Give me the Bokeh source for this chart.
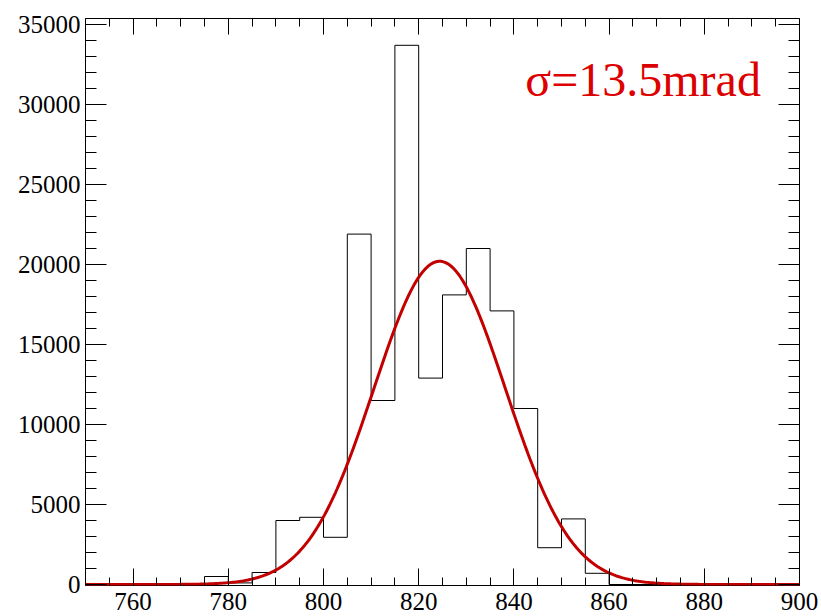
import numpy as np
from bokeh.plotting import figure
from bokeh.models import Range1d, LinearAxis, SingleIntervalTicker, Label
from bokeh.embed import file_html
from bokeh.resources import INLINE

# ---- data ----
bin_left_edges = [750, 755, 760, 765, 770, 775, 780, 785, 790, 795,
                  800, 805, 810, 815, 820, 825, 830, 835, 840, 845,
                  850, 855, 860, 865, 870, 875, 880, 885, 890, 895]
bin_counts = [0, 0, 0, 0, 0, 500, 100, 750, 4000, 4200,
              2950, 21900, 11500, 33700, 12900, 18100, 21000, 17100, 11000, 2300,
              4100, 700, 0, 0, 0, 0, 0, 0, 0, 0]
bin_upper_edge = 900

# Gaussian fit parameters
fit_amp = 20200
fit_mean = 824.4
fit_sigma = 13.8
label_text = "σ=13.5mrad"

x_ticks_interval = 20
y_ticks_interval = 5000

p = figure(width=821, height=616, output_backend="svg", toolbar_location=None,
           x_range=Range1d(750, 900), y_range=Range1d(-62, 35375),
           min_border_left=85, min_border_right=22, min_border_top=18,
           min_border_bottom=31, background_fill_color="white",
           border_fill_color="white", outline_line_color="black",
           outline_line_width=1)
p.xgrid.visible = False
p.ygrid.visible = False

FONT = "Liberation Serif"

def style_axis(ax, major_in, minor_in, labels=True):
    ax.axis_line_color = None
    ax.major_tick_in = major_in
    ax.major_tick_out = 0
    ax.minor_tick_in = minor_in
    ax.minor_tick_out = 0
    ax.major_tick_line_color = "black"
    ax.minor_tick_line_color = "black"
    ax.major_tick_line_width = 1
    ax.minor_tick_line_width = 1
    if labels:
        ax.major_label_text_font = FONT
        ax.major_label_text_font_size = "25px"
        ax.major_label_text_color = "black"
    else:
        ax.major_label_text_font_size = "1px"
        ax.major_label_text_color = None
        ax.major_label_standoff = 0

xt = SingleIntervalTicker(interval=x_ticks_interval, num_minor_ticks=4)
yt = SingleIntervalTicker(interval=y_ticks_interval, num_minor_ticks=5)

p.xaxis.ticker = xt
p.yaxis.ticker = yt
style_axis(p.xaxis[0], 17, 8)
style_axis(p.yaxis[0], 21, 11)
p.xaxis.major_label_standoff = 7
p.yaxis.major_label_standoff = 5

top_ax = LinearAxis(ticker=SingleIntervalTicker(interval=x_ticks_interval, num_minor_ticks=4))
style_axis(top_ax, 16, 8, labels=False)
p.add_layout(top_ax, "above")
right_ax = LinearAxis(ticker=SingleIntervalTicker(interval=y_ticks_interval, num_minor_ticks=5))
style_axis(right_ax, 21, 11, labels=False)
p.add_layout(right_ax, "right")

# histogram outline (step)
step_x = list(bin_left_edges) + [bin_upper_edge]
step_y = list(bin_counts) + [0]
p.step(step_x, step_y, mode="after", line_color="black", line_width=1)

# Gaussian fit curve
xs = np.linspace(750, 900, 401)
ys = fit_amp * np.exp(-0.5 * ((xs - fit_mean) / fit_sigma) ** 2)
p.line(xs, ys, line_color="#c20000", line_width=3)

p.add_layout(Label(x=842.4, y=31560, text=label_text, text_font=FONT,
                   text_font_size="48px", text_color="#dd0000",
                   text_baseline="alphabetic", text_align="left"))

open("out.html", "w").write(file_html(p, INLINE))
